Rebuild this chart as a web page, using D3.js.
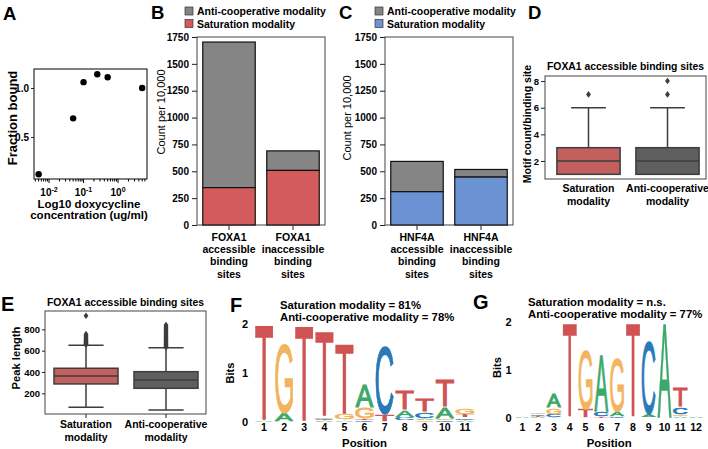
<!DOCTYPE html>
<html><head><meta charset="utf-8">
<script src="https://cdn.jsdelivr.net/npm/d3@7"></script>
<style>body{margin:0;background:#fff} svg{display:block}</style>
</head><body>
<svg id="fig" width="708" height="449"></svg>
<script>
// ---------------- DATA ----------------
// Panel A
const doxConcentration = [0.005, 0.05, 0.1, 0.25, 0.5, 5];
const fractionBound = [0.12, 0.69, 1.06, 1.14, 1.11, 1.0];
const fractionTicks = [0.5, 1.0];
// Panel B
const foxCategories = ["FOXA1 accessible binding sites", "FOXA1 inaccessible binding sites"];
const foxLabelLines = [["FOXA1", "accessible", "binding", "sites"], ["FOXA1", "inaccessible", "binding", "sites"]];
const foxSaturation = [348, 508];
const foxAntiCooperative = [1355, 182];
// Panel C
const hnfCategories = ["HNF4A accessible binding sites", "HNF4A inaccessible binding sites"];
const hnfLabelLines = [["HNF4A", "accessible", "binding", "sites"], ["HNF4A", "inaccessible", "binding", "sites"]];
const hnfSaturation = [310, 446];
const hnfAntiCooperative = [282, 71];
const countTicks = [0, 250, 500, 750, 1000, 1250, 1500, 1750];
const legendLabels = ["Anti-cooperative modality", "Saturation modality"];
// Panels D / E
const modalityGroups = ["Saturation modality", "Anti-cooperative modality"];
const modalityLabelLines = [["Saturation", "modality"], ["Anti-cooperative", "modality"]];
const motifQ1 = [1, 1], motifMedian = [2, 2], motifQ3 = [3, 3];
const motifWhiskerLow = [1, 1], motifWhiskerHigh = [6, 6];
const motifOutliers = [[7], [7, 8]];
const motifTicks = [2, 4, 6, 8];
const peakQ1 = [288, 247], peakMedian = [362, 325], peakQ3 = [435, 403];
const peakWhiskerLow = [69, 44], peakWhiskerHigh = [651, 628];
const peakOutliers = [
  [655, 660, 665, 670, 676, 682, 688, 694, 700, 707, 714, 722, 731, 742, 755, 927],
  [633, 638, 644, 650, 657, 664, 671, 679, 687, 695, 703, 711, 720, 729, 738, 747, 756, 765, 775, 785, 795, 806, 817, 828, 840]
];
const peakTicks = [200, 400, 600, 800];
// Panel F (FOXA1 motif), bits per letter per position
const foxPositions = [1, 2, 3, 4, 5, 6, 7, 8, 9, 10, 11];
const foxBitsA = [0.02, 0.18, 0.01, 0.03, 0.02, 0.46, 0.01, 0.15, 0.04, 0.23, 0.03];
const foxBitsC = [0.01, 0.01, 0.01, 0.03, 0.02, 0.03, 1.38, 0.07, 0.14, 0.03, 0.05];
const foxBitsG = [0.01, 1.41, 0.00, 0.04, 0.12, 0.24, 0.01, 0.02, 0.03, 0.04, 0.13];
const foxBitsT = [1.93, 0.00, 1.93, 1.71, 1.43, 0.03, 0.15, 0.40, 0.27, 0.54, 0.07];
// Panel G (HNF4A anti-cooperative motif)
const hnfPositions = [1, 2, 3, 4, 5, 6, 7, 8, 9, 10, 11, 12];
const hnfBitsA = [0.02, 0.02, 0.29, 0.00, 0.01, 1.17, 0.09, 0.00, 0.07, 1.94, 0.03, 0.02];
const hnfBitsC = [0.01, 0.03, 0.08, 0.00, 0.01, 0.11, 0.03, 0.00, 1.54, 0.01, 0.16, 0.02];
const hnfBitsG = [0.02, 0.03, 0.14, 0.00, 1.24, 0.01, 1.12, 0.00, 0.01, 0.01, 0.04, 0.01];
const hnfBitsT = [0.01, 0.02, 0.01, 1.95, 0.17, 0.02, 0.01, 1.95, 0.01, 0.01, 0.39, 0.01];
const bitTicks = [0, 1, 2];

// ---------------- STYLE ----------------
const FONT = '"Liberation Sans", Arial, Helvetica, sans-serif';
const GREY = "#858585", RED = "#d35b5b", BLUE = "#6b93d4";
const BOX_RED = "#c45f5f", BOX_GREY = "#5f5f5f", BOX_LINE = "#3d3d3d";
const letterColors = {A: "#3ca86a", C: "#2a79b8", G: "#f2b45e", T: "#cf5353"};

const svg = d3.select("#fig");
svg.append("rect").attr("width", 708).attr("height", 449).attr("fill", "#fff");

function txt(g, x, y, s, size, weight, anchor) {
  return g.append("text").attr("x", x).attr("y", y).text(s)
    .attr("font-family", FONT).attr("font-size", size).attr("font-weight", weight || "bold")
    .attr("text-anchor", anchor || "start").attr("fill", "#000");
}
function multiText(g, x, y0, lines, lh, size, weight) {
  const t = g.append("text").attr("text-anchor", "middle").attr("font-family", FONT)
    .attr("font-size", size).attr("font-weight", weight || "bold");
  lines.forEach((l, i) => t.append("tspan").attr("x", x).attr("y", y0 + i * lh).text(l));
}
function vLabel(g, cx, cy, s, size, weight) {
  g.append("text").attr("transform", `translate(${cx},${cy}) rotate(-90)`).attr("dy", "0.35em")
    .attr("text-anchor", "middle").attr("font-family", FONT).attr("font-size", size)
    .attr("font-weight", weight || "bold").text(s);
}
function frame(g, x0, x1, y0, y1, color) {
  g.append("rect").attr("x", x0).attr("y", y0).attr("width", x1 - x0).attr("height", y1 - y0)
    .attr("fill", "none").attr("stroke", color).attr("stroke-width", 1);
}
function styleAxis(sel, size, weight) {
  sel.select(".domain").remove();
  sel.attr("font-family", FONT).attr("font-size", size);
  sel.selectAll("text").attr("font-weight", weight || "bold").attr("fill", "#000");
  sel.selectAll("line").attr("stroke", "#222");
}
function panelLetter(x, y, s, size) {
  txt(svg, x, y, s, size, "bold");
}

// ---------------- PANEL A ----------------
(function () {
  const g = svg.append("g");
  const x = d3.scaleLog().domain([0.00367, 6.9]).range([34, 147]);
  const y = d3.scaleLinear().domain([0.071, 1.194]).range([179, 69]);
  frame(g, x.range()[0], x.range()[1], y.range()[1], y.range()[0], "#000");
  const yAx = g.append("g").attr("transform", `translate(${x.range()[0]},0)`)
    .call(d3.axisLeft(y).tickValues(fractionTicks).tickFormat(d3.format(".1f")).tickSize(3).tickPadding(2));
  styleAxis(yAx, 10);
  const ticks = x.ticks();
  const isMajor = d => Math.abs(Math.log10(d) - Math.round(Math.log10(d))) < 1e-9;
  ticks.forEach(d => {
    g.append("line").attr("x1", x(d)).attr("x2", x(d)).attr("y1", y.range()[0])
      .attr("y2", y.range()[0] + (isMajor(d) ? 4 : 2.5)).attr("stroke", "#000");
    if (isMajor(d)) {
      const t = g.append("text").attr("x", x(d)).attr("y", 196).attr("text-anchor", "middle")
        .attr("font-family", FONT).attr("font-size", 10).attr("font-weight", "bold");
      t.append("tspan").text("10");
      t.append("tspan").attr("dy", -4).attr("font-size", 7).text(String(Math.round(Math.log10(d))));
    }
  });
  g.selectAll("circle.pt").data(doxConcentration).enter().append("circle")
    .attr("cx", d => x(d)).attr("cy", (d, i) => y(fractionBound[i])).attr("r", 3.2).attr("fill", "#000");
  vLabel(g, 12, 118, "Fraction bound", 13);
  multiText(g, 89, 207.5, ["Log10 doxycycline", "concentration (ug/ml)"], 11.5, 11.5);
  panelLetter(3, 20, "A", 18.5);
})();

// ---------------- PANELS B & C ----------------
function stackedPanel(opt) {
  const g = svg.append("g");
  const x = d3.scaleBand().domain(opt.categories).range(opt.xRange).paddingInner(0.18).paddingOuter(0.09);
  const y = d3.scaleLinear().domain([0, 1750]).range([225, 37]);
  frame(g, opt.xRange[0], opt.xRange[1], 37, 225, "#444");
  opt.categories.forEach((c, i) => {
    const sat = opt.saturation[i], anti = opt.anti[i];
    g.append("rect").attr("x", x(c)).attr("width", x.bandwidth()).attr("y", y(sat + anti))
      .attr("height", y(sat) - y(sat + anti)).attr("fill", GREY).attr("stroke", "#111").attr("stroke-width", 1.2);
    g.append("rect").attr("x", x(c)).attr("width", x.bandwidth()).attr("y", y(sat))
      .attr("height", y(0) - y(sat)).attr("fill", opt.color).attr("stroke", "#111").attr("stroke-width", 1.2);
    multiText(g, x(c) + x.bandwidth() / 2, 241, opt.lines[i], 12.2, 10.5);
  });
  const yAx = g.append("g").attr("transform", `translate(${opt.xRange[0]},0)`)
    .call(d3.axisLeft(y).tickValues(countTicks).tickFormat(d3.format("d")).tickSize(5).tickPadding(3));
  styleAxis(yAx, 10);
  const xAx = g.append("g").attr("transform", `translate(0,225)`)
    .call(d3.axisBottom(x).tickSize(5).tickFormat(""));
  styleAxis(xAx, 10);
  vLabel(g, opt.yLabelX, opt.yLabelY, "Count per 10,000", 11, "normal");
  // legend
  const colors = [GREY, opt.color];
  legendLabels.forEach((l, i) => {
    g.append("rect").attr("x", opt.legendX).attr("y", 7 + i * 12.5).attr("width", 8).attr("height", 8)
      .attr("fill", colors[i]).attr("stroke", "#333").attr("stroke-width", 0.7);
    txt(g, opt.legendX + 12, 15 + i * 12.5, l, 10.5, "bold");
  });
  panelLetter(opt.letterX, 18.5, opt.letter, 18.5);
}
stackedPanel({categories: foxCategories, lines: foxLabelLines, saturation: foxSaturation, anti: foxAntiCooperative,
  color: RED, xRange: [197, 325], yLabelX: 161.5, yLabelY: 112, legendX: 185, letter: "B", letterX: 151});
stackedPanel({categories: hnfCategories, lines: hnfLabelLines, saturation: hnfSaturation, anti: hnfAntiCooperative,
  color: BLUE, xRange: [385, 513], yLabelX: 347, yLabelY: 118, legendX: 375, letter: "C", letterX: 339});

// ---------------- PANELS D & E ----------------
function boxPanel(opt) {
  const g = svg.append("g");
  const x = d3.scaleBand().domain(modalityGroups).range(opt.bandRange).paddingInner(0.2).paddingOuter(0.1);
  const y = d3.scaleLinear().domain(opt.yDomain).range([opt.yBottom, opt.yTop]);
  frame(g, opt.frameX[0], opt.frameX[1], opt.yTop, opt.yBottom, "#444");
  const fills = [BOX_RED, BOX_GREY];
  modalityGroups.forEach((grp, i) => {
    const x0 = x(grp), bw = x.bandwidth(), cx = x0 + bw / 2, cw = bw * 0.55;
    const line = (x1, y1, x2, y2) => g.append("line").attr("x1", x1).attr("y1", y1).attr("x2", x2).attr("y2", y2)
      .attr("stroke", BOX_LINE).attr("stroke-width", 1.5);
    line(cx, y(opt.q3[i]), cx, y(opt.hi[i]));
    line(cx, y(opt.q1[i]), cx, y(opt.lo[i]));
    line(cx - cw / 2, y(opt.hi[i]), cx + cw / 2, y(opt.hi[i]));
    line(cx - cw / 2, y(opt.lo[i]), cx + cw / 2, y(opt.lo[i]));
    g.append("rect").attr("x", x0).attr("width", bw).attr("y", y(opt.q3[i])).attr("height", y(opt.q1[i]) - y(opt.q3[i]))
      .attr("fill", fills[i]).attr("stroke", BOX_LINE).attr("stroke-width", 1.5);
    line(x0, y(opt.med[i]), x0 + bw, y(opt.med[i]));
    opt.outliers[i].forEach(v => {
      g.append("path").attr("d", "M0,-3.3L2.4,0L0,3.3L-2.4,0Z").attr("transform", `translate(${cx},${y(v)})`)
        .attr("fill", BOX_LINE);
    });
    multiText(g, cx, opt.labelY, modalityLabelLines[i], 12.8, 10.5);
  });
  const yAx = g.append("g").attr("transform", `translate(${opt.frameX[0]},0)`)
    .call(d3.axisLeft(y).tickValues(opt.ticks).tickFormat(d3.format("d")).tickSize(opt.tickSize).tickPadding(2));
  styleAxis(yAx, opt.tickFont);
  if (opt.bottomTicks) {
    const xAx = g.append("g").attr("transform", `translate(0,${opt.yBottom})`)
      .call(d3.axisBottom(x).tickSize(4).tickFormat(""));
    styleAxis(xAx, 10);
  }
  txt(g, (opt.frameX[0] + opt.frameX[1]) / 2, opt.titleY, "FOXA1 accessible binding sites", 10.4, "bold", "middle");
  vLabel(g, opt.yLabelX, opt.yLabelY, opt.yLabel, opt.yLabelSize);
}
boxPanel({bandRange: [549, 707], frameX: [545, 706], yDomain: [0.65, 8.38], yBottom: 179, yTop: 76,
  q1: motifQ1, med: motifMedian, q3: motifQ3, lo: motifWhiskerLow, hi: motifWhiskerHigh, outliers: motifOutliers,
  ticks: motifTicks, tickSize: 4, tickFont: 9.5, labelY: 192, titleY: 70, yLabel: "Motif count/binding site",
  yLabelX: 527, yLabelY: 124, yLabelSize: 10.5, bottomTicks: false});
boxPanel({bandRange: [46, 206], frameX: [45, 206], yDomain: [6, 972], yBottom: 414, yTop: 311,
  q1: peakQ1, med: peakMedian, q3: peakQ3, lo: peakWhiskerLow, hi: peakWhiskerHigh, outliers: peakOutliers,
  ticks: peakTicks, tickSize: 3, tickFont: 9.5, labelY: 428, titleY: 306, yLabel: "Peak length",
  yLabelX: 16, yLabelY: 358, yLabelSize: 11.2, bottomTicks: true});
panelLetter(528, 18.5, "D", 18.5);
panelLetter(1, 311, "E", 20);

// ---------------- PANELS F & G (sequence logos) ----------------
const measureCtx = document.createElement("canvas").getContext("2d");
const glyphCache = {};
const LOGO_FONT = '"Liberation Sans"';
function glyphBox(ch) {
  if (!glyphCache[ch]) {
    measureCtx.font = 'normal 100px "Liberation Sans"';
    const m = measureCtx.measureText(ch);
    glyphCache[ch] = {l: m.actualBoundingBoxLeft, r: m.actualBoundingBoxRight,
      a: m.actualBoundingBoxAscent, d: m.actualBoundingBoxDescent};
  }
  return glyphCache[ch];
}
function drawLetter(g, ch, x0, y0, w, h, color) {
  const b = glyphBox(ch);
  const sw = Math.min(1.1, h * 0.5); // screen-space outline thickening
  const iw = w - sw, ih = h - sw;
  const sx = iw / (b.l + b.r), sy = ih / (b.a + b.d);
  g.append("text").text(ch).attr("x", 0).attr("y", 0)
    .attr("font-size", 100).attr("font-weight", "normal").attr("font-family", LOGO_FONT)
    .attr("fill", color).attr("stroke", color).attr("stroke-width", sw)
    .attr("vector-effect", "non-scaling-stroke").attr("stroke-linejoin", "miter")
    .attr("transform", `translate(${x0 + sw / 2},${y0 + sw / 2}) scale(${sx},${sy}) translate(${b.l},${b.a})`);
}
function logoPanel(opt) {
  const g = svg.append("g");
  const x = d3.scaleBand().domain(opt.positions).range(opt.xRange).paddingInner(0.07).paddingOuter(0.035);
  const y = d3.scaleLinear().domain([0, 2]).range(opt.yRange);
  const bits = {A: opt.A, C: opt.C, G: opt.G, T: opt.T};
  opt.positions.forEach((p, i) => {
    const stack = ["A", "C", "G", "T"].map(L => ({L, h: bits[L][i]})).filter(d => d.h >= 0.02)
      .sort((a, b) => a.h - b.h);
    let base = 0;
    stack.forEach(d => {
      const yTop = y(base + d.h), yBot = y(base);
      drawLetter(g, d.L, x(p), yTop, x.bandwidth(), yBot - yTop, letterColors[d.L]);
      base += d.h;
    });
  });
  const yAx = g.append("g").attr("transform", `translate(${opt.yAxisX},0)`)
    .call(d3.axisLeft(y).tickValues(bitTicks).tickFormat(d3.format("d")).tickSize(0).tickPadding(3));
  styleAxis(yAx, 11);
  const xAx = g.append("g").attr("transform", `translate(0,421)`)
    .call(d3.axisBottom(x).tickSize(0).tickPadding(3));
  styleAxis(xAx, 10.5);
  txt(g, (opt.xRange[0] + opt.xRange[1]) / 2, 447, "Position", 11.4, "bold", "middle");
  vLabel(g, opt.bitsX, opt.bitsY, "Bits", 11);
  txt(g, opt.titleX, opt.titleY, opt.title1, 11.3, "bold");
  txt(g, opt.titleX, opt.titleY + 12.5, opt.title2, 11.3, "bold");
  panelLetter(opt.letterX, opt.letterY, opt.letter, 20);
}
logoPanel({positions: foxPositions, A: foxBitsA, C: foxBitsC, G: foxBitsG, T: foxBitsT,
  xRange: [254, 475], yRange: [422, 324], yAxisX: 251, bitsX: 230, bitsY: 373,
  titleX: 280, titleY: 308.5, title1: "Saturation modality = 81%", title2: "Anti-cooperative modality = 78%",
  letter: "F", letterX: 230, letterY: 311.5});
logoPanel({positions: hnfPositions, A: hnfBitsA, C: hnfBitsC, G: hnfBitsG, T: hnfBitsT,
  xRange: [514.4, 704], yRange: [418, 322], yAxisX: 514.5, bitsX: 497.5, bitsY: 367.5,
  titleX: 528, titleY: 305.5, title1: "Saturation modality = n.s.", title2: "Anti-cooperative modality = 77%",
  letter: "G", letterX: 473, letterY: 309});
</script>
</body></html>
